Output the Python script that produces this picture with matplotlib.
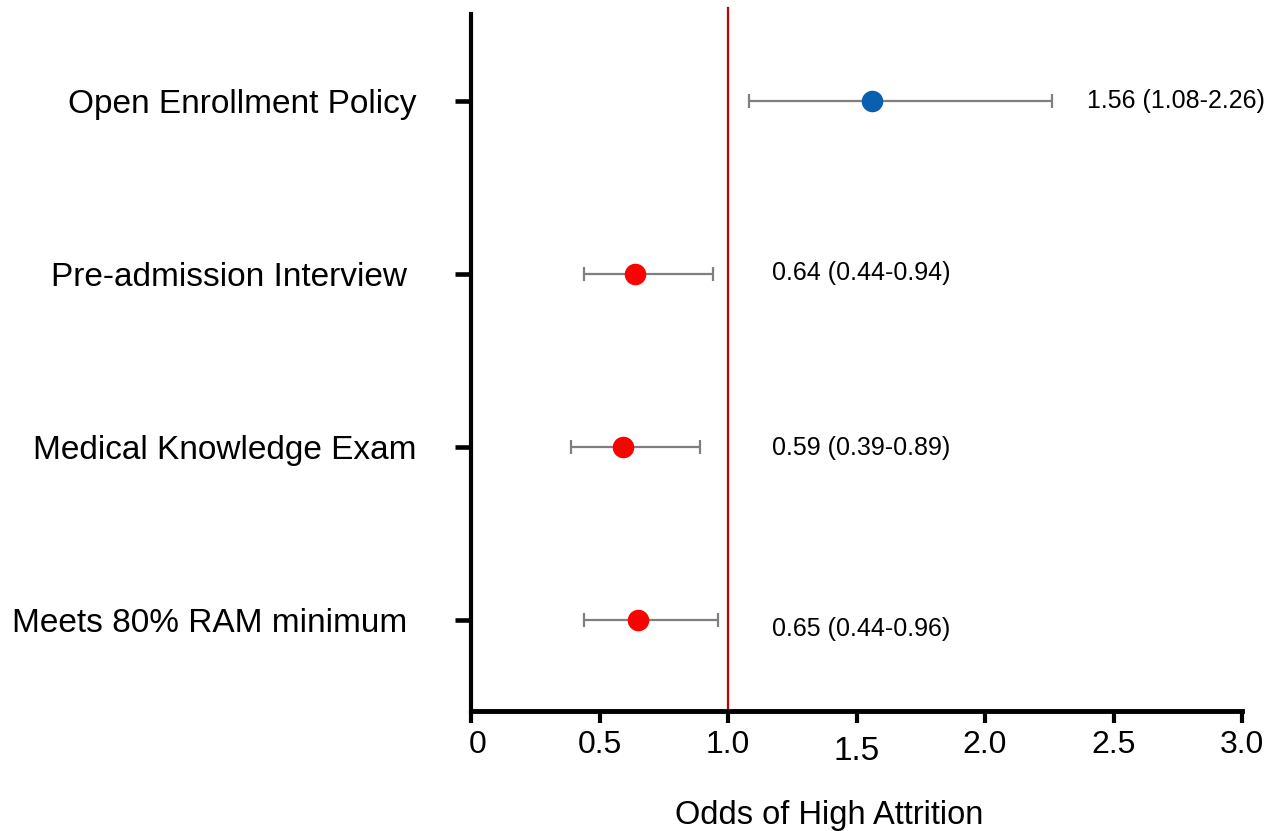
import matplotlib
matplotlib.use("Agg")
import matplotlib.pyplot as plt
import matplotlib.transforms as mtransforms

# data, top row first
factors = ["Open Enrollment Policy", "Pre-admission Interview ",
           "Medical Knowledge Exam", "Meets 80% RAM minimum "]
odds = [1.56, 0.64, 0.59, 0.65]
ci_low = [1.08, 0.44, 0.39, 0.44]
ci_high = [2.26, 0.94, 0.89, 0.96]
point_colors = ["#0a5fb0", "#ff0000", "#ff0000", "#ff0000"]
x_ticks = [0, 0.5, 1.0, 1.5, 2.0, 2.5, 3.0]
x_tick_labels = ["0", "0.5", "1.0", "1.5", "2.0", "2.5", "3.0"]

plt.rcParams['font.family'] = ['Liberation Sans', 'DejaVu Sans']

fig = plt.figure(figsize=(12.82, 8.31), dpi=100)
ax = fig.add_axes([0.3674, 0.1444, 0.6014, 0.8388])

rows = list(range(len(factors), 0, -1))

for y, m, lo, hi, c in zip(rows, odds, ci_low, ci_high, point_colors):
    ax.errorbar(m, y, xerr=[[m - lo], [hi - m]], fmt='none', ecolor='#7f7f7f',
                elinewidth=1.6, capsize=5, capthick=1.6, zorder=2)
    ax.plot(m, y, 'o', color=c, markersize=14.5, zorder=3)

# reference line at OR = 1, runs a little above the axes
ax.axvline(1.0, ymin=0, ymax=1.009, color='#c00000', lw=1.6, clip_on=False, zorder=1)

# estimate + CI text next to each row (first one sits further right)
text_shift = [0, 1, -1, -9]
for i, (y, m, lo, hi) in enumerate(zip(rows, odds, ci_low, ci_high)):
    txt = "%.2f (%.2f-%.2f)" % (m, lo, hi)
    tx = 2.397 if i == 0 else 1.171
    ax.annotate(txt, (tx, y), xytext=(0, text_shift[i]), textcoords='offset pixels',
                fontsize=18, va='center', ha='left')

ax.set_xlim(0, 3.0)
ax.set_ylim(0.475, 4.5)

ax.set_yticks(rows)
ax.set_yticklabels(factors, fontsize=24)
ax.set_xticks(x_ticks)
ax.set_xticklabels(x_tick_labels, fontsize=23)

ax.tick_params(axis='y', length=11.5, width=3.3, pad=28, direction='out')
ax.tick_params(axis='x', length=8.6, width=3, pad=5, direction='out')

# the 1.5 label sits a bit lower, the 0 a bit to the right
for lab, v in zip(ax.get_xticklabels(), x_ticks):
    if v == 1.5:
        lab.set_fontsize(24)
        lab.set_transform(lab.get_transform() + mtransforms.ScaledTranslation(0, -0.06, fig.dpi_scale_trans))
    elif v == 0:
        lab.set_transform(lab.get_transform() + mtransforms.ScaledTranslation(0.07, 0, fig.dpi_scale_trans))

ax.set_xlabel("Odds of High Attrition", fontsize=23.5)
ax.xaxis.set_label_coords(0.464, -0.127)

for side in ['top', 'right']:
    ax.spines[side].set_visible(False)
ax.spines['left'].set_linewidth(3)
ax.spines['bottom'].set_linewidth(3.5)

fig.savefig("out.png", dpi=100)
